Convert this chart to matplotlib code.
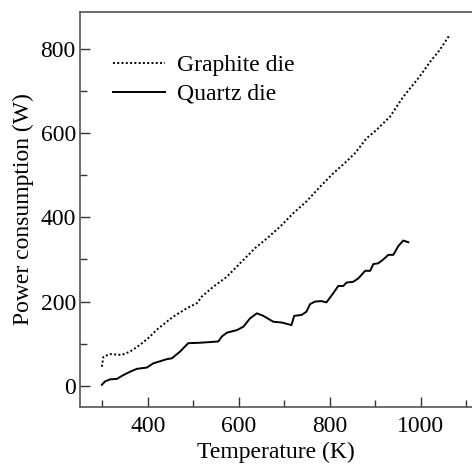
import matplotlib
matplotlib.use("Agg")
import matplotlib.pyplot as plt
from matplotlib.ticker import MultipleLocator

plt.rcParams['font.family'] = ['Liberation Serif', 'DejaVu Serif']

# graphite die (dotted)
graphite_T = [299, 302.6, 317, 343, 361, 383, 401, 423, 456, 486, 508, 519, 544, 574,
              603, 636, 662, 691, 720, 749, 779, 808, 837, 856, 881, 903, 933, 962,
              998, 1021, 1042, 1064]
graphite_P = [45, 69, 75, 73, 81, 97, 113, 136, 164, 184, 196, 212, 235, 259,
              291, 327, 350, 378, 410, 438, 473, 505, 533, 553, 588, 608, 640, 687,
              735, 770, 798, 834]

# quartz die (solid)
quartz_T = [299, 306, 317, 332, 346, 361, 376, 398, 412, 442, 453, 471, 489, 515,
            555, 563, 574, 596, 610, 625, 640, 654, 676, 695, 716, 722, 738, 749,
            757, 768, 782, 793, 808, 819, 830, 837, 852, 863, 878, 889, 896, 907,
            918, 929, 940, 951, 962, 973]
quartz_P = [2, 10, 15, 16, 25, 33, 40, 43, 53, 63, 65, 81, 101, 102,
            105, 117, 126, 132, 140, 160, 172, 166, 152, 150, 144, 166, 168, 176,
            194, 200, 201, 198, 220, 237, 237, 245, 247, 255, 273, 273, 289, 291,
            300, 311, 311, 332, 345, 341]

fig = plt.figure(figsize=(4.72, 4.65), dpi=100)
ax = fig.add_axes([0.1695, 0.1254, 0.8305, 0.8494])

ax.plot(graphite_T, graphite_P, color='black', linestyle=(0, (1, 1.2)), linewidth=1.4,
        label='Graphite die')
ax.plot(quartz_T, quartz_P, color='black', linestyle='-', linewidth=1.4,
        label='Quartz die')

ax.set_xlim(251, 1113)
ax.set_ylim(-50, 889)

ax.xaxis.set_major_locator(MultipleLocator(200))
ax.xaxis.set_minor_locator(MultipleLocator(100))
ax.yaxis.set_major_locator(MultipleLocator(200))
ax.yaxis.set_minor_locator(MultipleLocator(100))
ax.tick_params(which='both', direction='in', labelsize=17, color='#333333',
               top=False, right=False)
ax.tick_params(which='major', length=7, width=1)
ax.tick_params(which='minor', length=5, width=1)
ax.tick_params(axis='x', pad=7)
ax.tick_params(axis='y', pad=3)

ax.spines['right'].set_visible(False)
for s in ['left', 'bottom', 'top']:
    ax.spines[s].set_color('#555555')
    ax.spines[s].set_linewidth(1.2)

ax.set_xlabel('Temperature (K)', fontsize=17, labelpad=3)
ax.set_ylabel('Power consumption (W)', fontsize=17, labelpad=5)

ax.legend(loc='upper left', frameon=False, fontsize=17, handlelength=2.2,
          handletextpad=0.5, bbox_to_anchor=(0.03, 0.945), labelspacing=0.3)

fig.savefig('out.png', dpi=100)
